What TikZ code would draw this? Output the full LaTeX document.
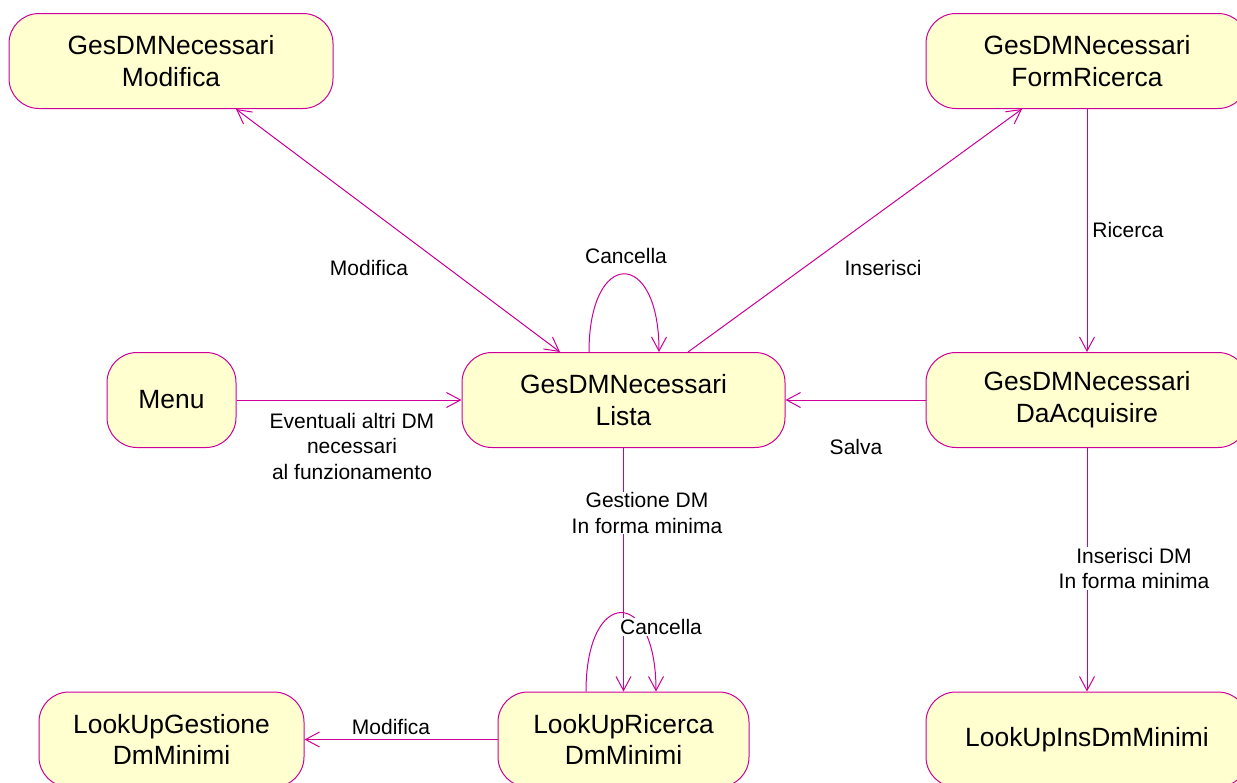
\documentclass[tikz,border=0pt]{standalone}
\usepackage{fontspec}
\setmainfont{Liberation Sans}
\usetikzlibrary{arrows.meta}
\definecolor{umlline}{RGB}{204,0,153}
\definecolor{umlfill}{RGB}{255,255,208}
\begin{document}
\begin{tikzpicture}[x=1pt,y=-1pt,
  state/.style={draw=umlline, fill=umlfill, line width=1pt, rounded corners=30pt,
    minimum height=95pt, align=center, font=\fontsize{26.4}{31.7}\selectfont},
  lbl/.style={align=center, inner sep=1pt, font=\fontsize{21}{25.5}\selectfont},
  flow/.style={draw=umlline, line width=1pt, >={Straight Barb[length=14pt,width=15pt]}}]
\useasboundingbox[fill=white] (0,0) rectangle (1237,782);

% States
\node[state, minimum width=324pt] (mod) at (171,61) {GesDMNecessari\\Modifica};
\node[state, minimum width=322pt] (form) at (1087,61) {GesDMNecessari\\FormRicerca};
\node[state, minimum width=129pt] (menu) at (171.5,400) {Menu};
\node[state, minimum width=323pt] (lista) at (623.5,400) {GesDMNecessari\\Lista};
\node[state, minimum width=322pt] (acq) at (1087,400) {GesDMNecessari\\DaAcquisire};
\node[state, minimum width=265pt] (lgest) at (171.5,739.5) {LookUpGestione\\DmMinimi};
\node[state, minimum width=251pt] (lric) at (623.5,739.5) {LookUpRicerca\\DmMinimi};
\node[state, minimum width=322pt] (lins) at (1087,739.5) {LookUpInsDmMinimi};

% Transitions
\draw[flow, <->] ([xshift=65pt]mod.south) -- ([xshift=-63.5pt]lista.north);
\draw[flow, ->] ([xshift=64.5pt]lista.north) -- ([xshift=-65pt]form.south);
\draw[flow, ->] ([xshift=-34.5pt]lista.north) .. controls +(0,-104) and +(0,-104) .. ([xshift=35.5pt]lista.north);
\draw[flow, ->] (form.south) -- (acq.north);
\draw[flow, ->] (acq.west) -- (lista.east);
\draw[flow, ->] (menu.east) -- (lista.west);
\draw[flow, ->] (lista.south) -- (lric.north);
\draw[flow, ->] ([xshift=-37.5pt]lric.north) .. controls +(0,-105) and +(0,-105) .. ([xshift=32.5pt]lric.north);
\draw[flow, ->] (acq.south) -- (lins.north);
\draw[flow, ->] (lric.west) -- (lgest.east);

% Labels
\node[lbl] (tmod) at (369,268) {Modifica};
\node[lbl] (tins) at (883,268) {Inserisci};
\node[lbl] (tcanc) at (626,256) {Cancella};
\node[lbl] (tric) at (1128,230) {Ricerca};
\node[lbl] (tsalva) at (856,447) {Salva};
\node[lbl] (tmenu) at (352,446) {Eventuali altri DM\\necessari\\al funzionamento};
\node[lbl, fill=white] (tgest) at (647,513) {Gestione DM\\In forma minima};
\node[lbl, fill=white] (tinsdm) at (1134,568.5) {Inserisci DM\\In forma minima};
\node[lbl, fill=white] (tcanc2) at (661,627) {Cancella};
\node[lbl, fill=white] (tmod2) at (391,727) {Modifica};
\end{tikzpicture}
\end{document}
